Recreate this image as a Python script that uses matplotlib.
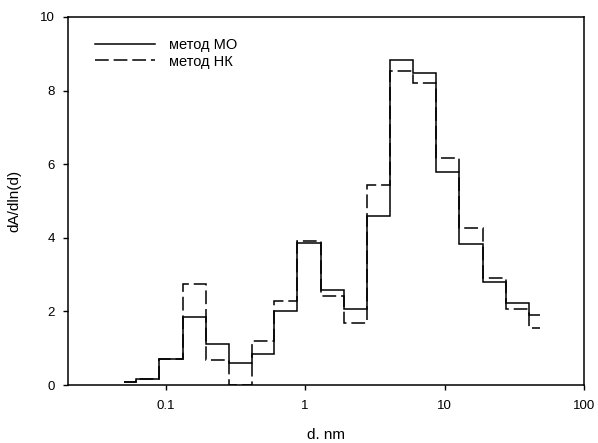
import matplotlib
matplotlib.use("Agg")
import matplotlib.pyplot as plt

plt.rcParams['font.family'] = ['Liberation Sans', 'DejaVu Sans']

# bin edges (nm) and dA/dln(d) for both methods
edges = [0.0501, 0.0618, 0.090, 0.134, 0.196, 0.284, 0.42, 0.601, 0.88, 1.30,
         1.90, 2.78, 4.07, 5.98, 8.76, 12.8, 18.8, 27.5, 40.2, 48.2]
mo_values = [0.08, 0.17, 0.71, 1.84, 1.11, 0.60, 0.85, 2.01, 3.87, 2.58,
             2.07, 4.60, 8.83, 8.49, 5.79, 3.83, 2.81, 2.22, 1.91]
nk_values = [0.08, 0.17, 0.71, 2.75, 0.69, 0.0, 1.19, 2.29, 3.90, 2.42,
             1.68, 5.44, 8.54, 8.20, 6.18, 4.26, 2.92, 2.07, 1.56]
labels = ["метод МО", "метод НК"]
xticks = [0.1, 1, 10, 100]
xtick_labels = ["0.1", "1", "10", "100"]
yticks = [0, 2, 4, 6, 8, 10]

fig = plt.figure(figsize=(5.98, 4.43), dpi=100)
ax = fig.add_axes([68 / 598, 1 - 385 / 443, 516 / 598, 368 / 443])

ax.stairs(mo_values, edges, baseline=None, color="black", linewidth=1.1,
          label=labels[0])
ax.stairs(nk_values, edges, baseline=None, color="black", linewidth=1.1,
          linestyle=(0, (9, 3.2)), label=labels[1])

ax.set_xscale("log")
ax.set_xlim(0.02, 100)
ax.set_ylim(0, 10)
ax.set_xticks(xticks)
ax.set_xticklabels(xtick_labels)
ax.minorticks_off()
ax.set_yticks(yticks)
ax.tick_params(direction="out", length=3.6, width=1, labelsize=9.5, top=False, right=False)
ax.tick_params(axis="x", pad=7.5)
ax.tick_params(axis="y", pad=6)
for s in ax.spines.values():
    s.set_linewidth(1.1)

ax.set_xlabel("d. nm", fontsize=11)
ax.set_ylabel("dA/dln(d)", fontsize=11)
# label top kept a few px above the figure edge so nothing is clipped
ax.xaxis.set_label_coords(0.5, -(428 - 385) / 368)
ax.yaxis.set_label_coords(-(68 - 21) / 516, 0.5)

ax.legend(loc="upper left", bbox_to_anchor=(0.052, 0.944), frameon=False,
          fontsize=10.5, handlelength=4.1, handletextpad=1.0, labelspacing=0.2,
          borderpad=0, borderaxespad=0)

fig.savefig("out.png", dpi=100)
